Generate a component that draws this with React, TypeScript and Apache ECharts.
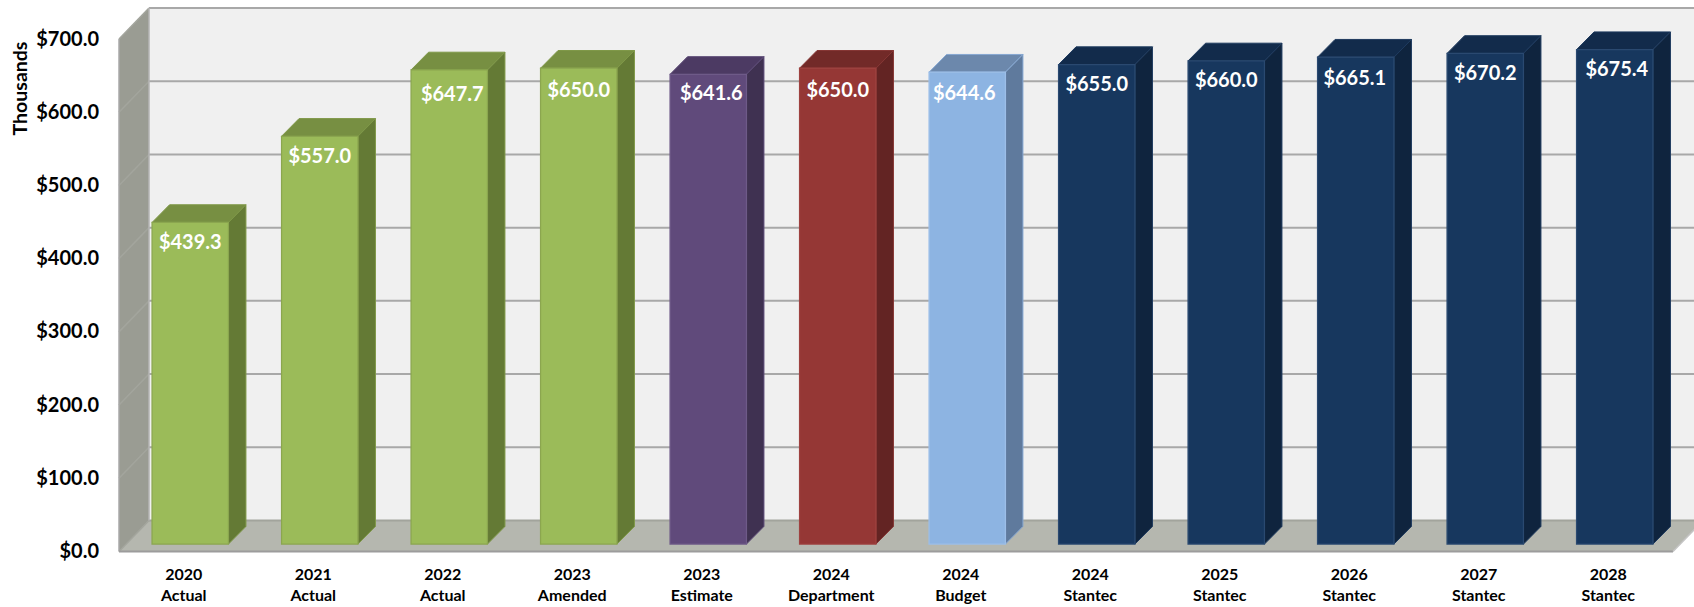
import React, { useEffect, useRef } from "react";
import * as echarts from "echarts";

const categories = [
  "2020\nActual", "2021\nActual", "2022\nActual", "2023\nAmended", "2023\nEstimate", "2024\nDepartment",
  "2024\nBudget", "2024\nStantec", "2025\nStantec", "2026\nStantec", "2027\nStantec", "2028\nStantec",
];
const values = [439.3, 557.0, 647.7, 650.0, 641.6, 650.0, 644.6, 655.0, 660.0, 665.1, 670.2, 675.4];
const yTicks = [0, 100, 200, 300, 400, 500, 600, 700];

const GREEN = { front: "#9BBB59", top: "#778F42", side: "#647A35", edge: "#8BA64F", rim: "#7F9848" };
const PURPLE = { front: "#604A7B", top: "#4C3A63", side: "#3F3151", edge: "#6E5A88", rim: "#5C4A76" };
const RED = { front: "#953735", top: "#722A28", side: "#632423", edge: "#9E413F", rim: "#853634" };
const SKY = { front: "#8DB4E2", top: "#6C88AC", side: "#5F7A9D", edge: "#9CBEE8", rim: "#86A8D2" };
const NAVY = { front: "#17375E", top: "#122B4B", side: "#0F243E", edge: "#2A4970", rim: "#1E3A5E" };
const palette = [GREEN, GREEN, GREEN, GREEN, PURPLE, RED, SKY, NAVY, NAVY, NAVY, NAVY, NAVY];

// hand-placed label nudges in the original chart
const labelDx = [0, 0, 3, 0, 3, 0, -3, 0, 0, -1, 0, 2];
const labelDy = [18.5, 18.6, 23.3, 20.7, 17.9, 20.7, 19.5, 18.4, 18, 19.5, 18.5, 18.3];

const FONT = "Lato, Carlito, 'Noto Sans', sans-serif";
const WALL_DX = 30;
const WALL_DY = 31;
const BAR_SHIFT_X = 6.5;
const BAR_SHIFT_Y = 7.4;
const BAR_DEPTH_X = 17.5;
const BAR_DEPTH_Y = 17.7;

function renderWalls(params: any, api: any) {
  const cs = params.coordSys;
  const left = cs.x;
  const right = cs.x + cs.width;
  const y0 = api.coord([0, 0])[1];
  const yMax = api.coord([0, 700])[1];
  const lineColor = "#A8A8A8";
  const children: any[] = [
    {
      type: "polygon",
      shape: { points: [[left + WALL_DX, yMax - WALL_DY], [right + WALL_DX, yMax - WALL_DY], [right + WALL_DX, y0 - WALL_DY], [left + WALL_DX, y0 - WALL_DY]] },
      style: { fill: "#F0F0F0" },
    },
    {
      type: "polygon",
      shape: { points: [[left, yMax], [left + WALL_DX, yMax - WALL_DY], [left + WALL_DX, y0 - WALL_DY], [left, y0]] },
      style: { fill: "#9A9C93" },
    },
    {
      type: "polygon",
      shape: { points: [[left, y0], [left + WALL_DX, y0 - WALL_DY], [right + WALL_DX, y0 - WALL_DY], [right, y0]] },
      style: { fill: "#B5B7AF" },
    },
  ];
  yTicks.forEach((t) => {
    const y = api.coord([0, t])[1];
    children.push({
      type: "line",
      shape: { x1: left + WALL_DX, y1: y - WALL_DY, x2: right + WALL_DX, y2: y - WALL_DY },
      style: { stroke: t === 0 ? "#A2A49C" : lineColor, lineWidth: 2 },
    });
    children.push({
      type: "line",
      shape: { x1: left, y1: y, x2: left + WALL_DX, y2: y - WALL_DY },
      style: { stroke: "#A3A59D", lineWidth: 1.5 },
    });
  });
  children.push(
    { type: "line", shape: { x1: left + WALL_DX, y1: yMax - WALL_DY, x2: left + WALL_DX, y2: y0 - WALL_DY }, style: { stroke: "#B4B4B4", lineWidth: 1.5 } },
    { type: "line", shape: { x1: left, y1: yMax, x2: left, y2: y0 }, style: { stroke: "#A8A8A8", lineWidth: 1.5 } },
    { type: "line", shape: { x1: left, y1: y0, x2: right, y2: y0 }, style: { stroke: "#9C9C9C", lineWidth: 2 } },
    { type: "line", shape: { x1: right, y1: y0, x2: right + WALL_DX, y2: y0 - WALL_DY }, style: { stroke: "#C4C4C4", lineWidth: 1.5 } }
  );
  return { type: "group", children };
}

function renderBar(params: any, api: any) {
  const i = api.value(0);
  const v = api.value(1);
  const [cx, yTop0] = api.coord([i, v]);
  const yBase0 = api.coord([i, 0])[1];
  const w = api.size([1, 0])[0] * 0.59;
  const c = palette[i];
  const x1 = cx + BAR_SHIFT_X - w / 2;
  const x2 = x1 + w;
  const yT = yTop0 - BAR_SHIFT_Y;
  const yB = yBase0 - BAR_SHIFT_Y;
  const dx = BAR_DEPTH_X;
  const dy = BAR_DEPTH_Y;
  return {
    type: "group",
    children: [
      {
        type: "polygon",
        shape: { points: [[x1, yT], [x1 + dx, yT - dy], [x2 + dx, yT - dy], [x2, yT]] },
        style: { fill: c.top, stroke: c.rim, lineWidth: 1 },
      },
      {
        type: "polygon",
        shape: { points: [[x2, yT], [x2 + dx, yT - dy], [x2 + dx, yB - dy], [x2, yB]] },
        style: { fill: c.side, stroke: c.rim, lineWidth: 1 },
      },
      {
        type: "rect",
        shape: { x: x1, y: yT, width: w, height: yB - yT },
        style: { fill: c.front, stroke: c.edge, lineWidth: 1.25 },
      },
      {
        type: "text",
        x: cx + BAR_SHIFT_X + labelDx[i],
        y: yT + labelDy[i],
        style: {
          text: "$" + v.toFixed(1),
          fill: "#FFFFFF",
          font: `bold 20px ${FONT}`,
          textAlign: "center",
          textVerticalAlign: "middle",
        },
      },
    ],
  };
}

export default function App() {
  const ref = useRef<HTMLDivElement>(null);
  useEffect(() => {
    const chart = echarts.init(ref.current!, undefined, { renderer: "svg" });
    chart.setOption({
      animation: false,
      backgroundColor: "#FFFFFF",
      grid: { left: 119, right: 21, top: 39, bottom: 55.5, containLabel: false },
      graphic: [
        {
          type: "text",
          x: 19,
          y: 88.5,
          rotation: Math.PI / 2,
          style: {
            text: "Thousands",
            fill: "#000000",
            font: `bold 19.5px ${FONT}`,
            textAlign: "center",
            textVerticalAlign: "middle",
          },
        },
      ],
      xAxis: {
        type: "category",
        data: categories,
        axisTick: { show: false },
        axisLine: { show: false },
        splitLine: { show: false },
        axisLabel: {
          interval: 0,
          margin: 11,
          color: "#000000",
          fontFamily: FONT,
          fontWeight: "bold",
          fontSize: 16,
          lineHeight: 21.5,
        },
      },
      yAxis: {
        type: "value",
        min: 0,
        max: 700,
        interval: 100,
        axisTick: { show: false },
        axisLine: { show: false },
        splitLine: { show: false },
        axisLabel: {
          margin: 20,
          verticalAlign: "bottom",
          lineHeight: 3,
          color: "#000000",
          fontFamily: FONT,
          fontWeight: "bold",
          fontSize: 20,
          formatter: (v: number) => "$" + v.toFixed(1),
        },
      },
      series: [
        { type: "custom", z: 1, silent: true, renderItem: renderWalls, data: [[0, 0]], encode: { x: 0, y: 1 } },
        { type: "custom", z: 2, silent: true, renderItem: renderBar, data: values.map((v, i) => [i, v]), encode: { x: 0, y: 1 } },
      ],
    });
    return () => chart.dispose();
  }, []);
  return <div ref={ref} style={{ position: "fixed", left: 0, top: 0, width: 1694, height: 607 }} />;
}
